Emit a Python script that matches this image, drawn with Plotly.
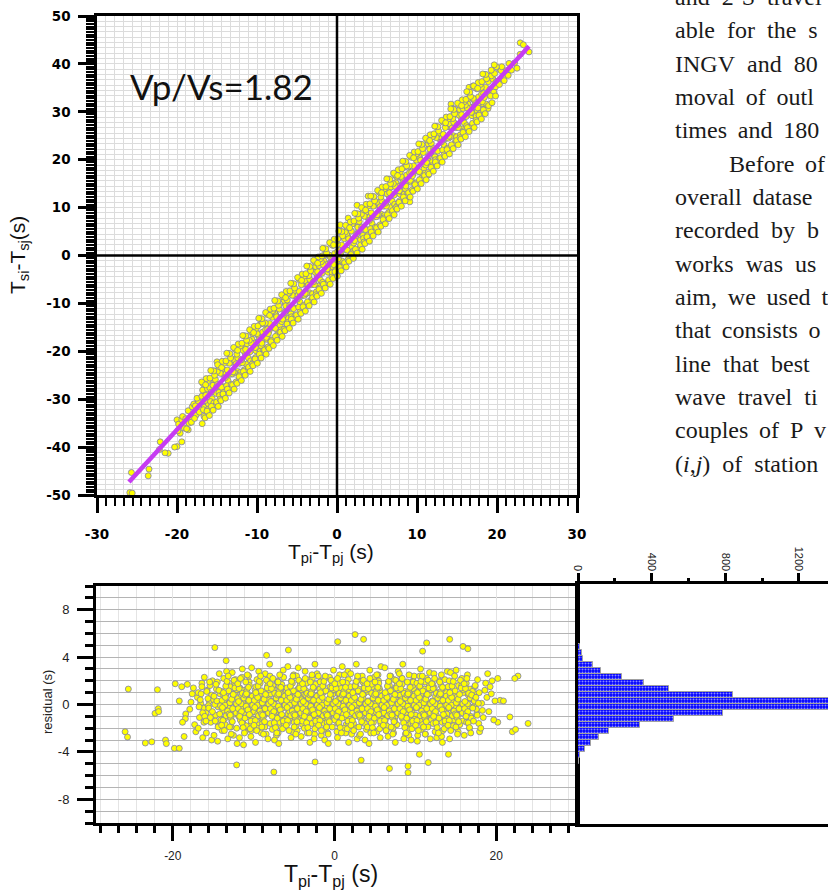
import plotly.graph_objects as go

FIG_W, FIG_H = 828, 890

# ---------------- data ----------------
VPVS_LABEL = "Vp/Vs=1.82"
fit_tp = [-26.0, 24.0]
fit_ts = [-47.3, 43.7]

top_xticks = [-30, -20, -10, 0, 10, 20, 30]
top_yticks = [-50, -40, -30, -20, -10, 0, 10, 20, 30, 40, 50]
res_xticks = [-20, 0, 20]
res_yticks = [-8, -4, 0, 4, 8]
hist_ticks = [0, 400, 800, 1200]

# Wadati diagram points (Tpi-Tpj, Tsi-Tsj)
wadati_points = [
    (-25.7, -45.3), (-25.9, -49.5), (-25.6, -49.6), (-23.5, -44.6), (-23.6, -46.0), (-22.1, -38.9),
    (-21.1, -41.3), (-20.0, -39.9), (-19.4, -38.9), (-20.0, -34.3), (-18.6, -36.4), (-21.5, -41.2),
    (-22.2, -40.5), (-20.3, -40.0), (-15.0, -22.2), (-13.4, -27.4), (-8.8, -19.4), (-7.5, -15.2),
    (22.9, 44.4), (24.0, 42.5), (23.3, 44.0), (20.3, 39.0), (19.5, 38.0), (16.5, 35.1), (17.0, 35.4),
    (14.25, 31.6), (14.5, 30.7), (9.1, 11.2), (11.4, 16.8), (3.9, 12.4), (2.5, 10.5), (1.4, 7.8), (0.4, 6.4),
    (-19.8, -35.2), (-19.4, -34.3), (-19.1, -36.0), (-19.6, -37.1), (-19.3, -33.6), (-19.9, -36.6),
    (-18.9, -34.1), (-18.6, -32.4), (-18.3, -33.9), (-18.8, -36.2), (-18.1, -31.6), (-18.5, -35.0), (-18.2, -34.8),
    (-17.9, -31.0), (-17.6, -33.3), (-17.3, -30.6), (-17.8, -34.0), (-17.1, -31.9), (-17.5, -29.8), (-17.2, -32.7), (-17.7, -31.4),
    (-16.9, -29.4), (-16.6, -31.7), (-16.3, -28.6), (-16.8, -28.1), (-16.1, -30.9), (-16.5, -30.3), (-16.2, -27.8), (-16.7, -32.2), (-16.4, -29.2),
    (-15.9, -27.6), (-15.6, -29.9), (-15.3, -26.5), (-15.8, -30.5), (-15.1, -28.8), (-15.5, -27.1), (-15.2, -25.9), (-15.7, -28.5), (-15.4, -30.8), (-15.05, -27.4),
    (-14.92, -26.9), (-14.5, -27.2), (-14.08, -24.2), (-14.75, -28.6), (-14.33, -23.8), (-14.67, -29.2), (-14.17, -24.9), (-14.83, -27.2), (-14.42, -27.5), (-14.58, -24.6), (-14.25, -29.0), (-14.96, -24.2),
    (-13.38, -24.8), (-13.87, -24.7), (-13.63, -26.1), (-13.12, -22.3), (-13.79, -27.2), (-13.29, -21.6), (-13.54, -24.6), (-13.04, -24.7), (-13.71, -23.9), (-13.21, -26.9), (-13.46, -22.5), (-13.96, -25.5),
    (-12.7, -22.4), (-12.15, -22.5), (-12.9, -21.7), (-12.45, -24.2), (-12.05, -24.4), (-12.6, -22.6), (-12.3, -19.5), (-12.8, -24.4), (-12.4, -21.4), (-12.98, -24.3), (-12.22, -25.6), (-12.52, -20.6),
    (-11.92, -22.1), (-11.5, -20.3), (-11.08, -21.4), (-11.75, -19.8), (-11.33, -22.7), (-11.67, -18.6), (-11.17, -20.2), (-11.83, -22.4), (-11.42, -19.6), (-11.58, -23.9), (-11.25, -18.4), (-11.96, -21.8),
    (-10.38, -18.1), (-10.87, -20.1), (-10.63, -17.5), (-10.12, -19.9), (-10.79, -22.0), (-10.29, -18.3), (-10.54, -16.3), (-10.04, -19.3), (-10.71, -18.3), (-10.21, -19.2), (-10.46, -22.3), (-10.96, -17.7),
    (-9.7, -17.4), (-9.15, -17.5), (-9.9, -16.6), (-9.45, -18.9), (-9.05, -14.2), (-9.6, -20.0), (-9.3, -16.0), (-9.8, -18.1), (-9.4, -18.3), (-9.98, -16.3), (-9.22, -19.9), (-9.52, -14.3),
    (-8.92, -15.5), (-8.5, -15.8), (-8.08, -12.9), (-8.75, -17.5), (-8.33, -17.6), (-8.67, -15.4), (-8.17, -12.0), (-8.83, -17.1), (-8.42, -14.2), (-8.58, -16.3), (-8.25, -18.3), (-8.96, -14.1),
    (-7.38, -13.1), (-7.87, -15.1), (-7.63, -12.4), (-7.12, -14.6), (-7.79, -11.8), (-7.29, -15.7), (-7.54, -12.8), (-7.04, -13.0), (-7.71, -15.2), (-7.21, -11.2), (-7.46, -16.6), (-7.96, -11.4),
    (-6.7, -12.6), (-6.15, -10.6), (-6.9, -13.8), (-6.45, -10.1), (-6.05, -13.1), (-6.6, -9.4), (-6.3, -11.3), (-6.8, -13.3), (-6.4, -10.5), (-6.98, -15.5), (-6.22, -9.3), (-6.52, -11.9),
    (-5.92, -10.5), (-5.5, -10.8), (-5.08, -7.8), (-5.75, -12.2), (-5.33, -7.4), (-5.67, -12.8), (-5.17, -8.5), (-5.83, -10.8), (-5.42, -11.1), (-5.58, -8.3), (-5.25, -12.6), (-5.96, -7.8),
    (-4.38, -8.4), (-4.87, -8.3), (-4.63, -9.7), (-4.12, -5.9), (-4.79, -10.8), (-4.29, -5.2), (-4.54, -8.2), (-4.04, -8.3), (-4.71, -7.5), (-4.21, -10.5), (-4.46, -6.1), (-4.96, -9.1),
    (-3.7, -6.0), (-3.15, -6.1), (-3.9, -5.3), (-3.45, -7.8), (-3.05, -8.0), (-3.6, -6.2), (-3.3, -3.1), (-3.8, -7.9), (-3.4, -5.0), (-3.98, -7.9), (-3.22, -9.2), (-3.52, -4.2),
    (-2.92, -5.8), (-2.5, -4.0), (-2.08, -5.1), (-2.75, -3.5), (-2.33, -6.4), (-2.67, -2.3), (-2.17, -3.9), (-2.83, -6.1), (-2.42, -3.4), (-2.58, -7.6), (-2.25, -2.1), (-2.96, -5.5),
    (-1.38, -1.7), (-1.87, -3.7), (-1.63, -1.1), (-1.12, -3.5), (-1.79, -5.6), (-1.29, -1.9), (-1.54, 0.1), (-1.04, -2.9), (-1.71, -1.9), (-1.21, -2.8), (-1.46, -5.9), (-1.96, -1.3),
    (-0.7, -1.0), (-0.15, -1.1), (-0.9, -0.2), (-0.45, -2.5), (-0.05, 2.2), (-0.6, -3.6), (-0.3, 0.4), (-0.8, -1.6), (-0.4, -1.9), (-0.98, 0.1), (-0.22, -3.5), (-0.52, 2.1),
    (0.08, 0.9), (0.5, 0.6), (0.92, 3.5), (0.25, -1.1), (0.67, -1.2), (0.33, 1.0), (0.83, 4.4), (0.17, -0.7), (0.58, 2.2), (0.42, 0.2), (0.75, -1.9), (0.04, 2.3),
    (1.62, 3.2), (1.13, 1.2), (1.37, 3.9), (1.88, 1.7), (1.21, 4.5), (1.71, 0.6), (1.46, 3.5), (1.96, 3.3), (1.29, 1.1), (1.79, 5.1), (1.54, -0.3), (1.04, 4.9),
    (2.3, 3.8), (2.85, 5.8), (2.1, 2.6), (2.55, 6.3), (2.95, 3.3), (2.4, 7.0), (2.7, 5.1), (2.2, 3.1), (2.6, 5.9), (2.02, 0.9), (2.78, 7.1), (2.48, 4.5),
    (3.08, 5.9), (3.5, 5.6), (3.92, 8.6), (3.25, 4.2), (3.67, 9.0), (3.33, 3.6), (3.83, 7.9), (3.17, 5.6), (3.58, 5.4), (3.42, 8.2), (3.75, 3.8), (3.04, 8.6),
    (4.62, 8.0), (4.13, 8.1), (4.37, 6.7), (4.88, 10.5), (4.21, 5.6), (4.71, 11.2), (4.46, 8.2), (4.96, 8.1), (4.29, 8.9), (4.79, 5.9), (4.54, 10.3), (4.04, 7.3),
    (5.3, 10.4), (5.85, 10.3), (5.1, 11.1), (5.55, 8.6), (5.95, 8.4), (5.4, 10.2), (5.7, 13.3), (5.2, 8.5), (5.6, 11.4), (5.02, 8.5), (5.78, 7.2), (5.48, 12.2),
    (6.08, 10.6), (6.5, 12.4), (6.92, 11.3), (6.25, 12.9), (6.67, 10.0), (6.33, 14.1), (6.83, 12.5), (6.17, 10.3), (6.58, 13.1), (6.42, 8.9), (6.75, 14.3), (6.04, 10.9),
    (7.62, 14.6), (7.13, 12.6), (7.37, 15.2), (7.88, 12.8), (7.21, 10.7), (7.71, 14.4), (7.46, 16.4), (7.96, 13.4), (7.29, 14.4), (7.79, 13.5), (7.54, 10.4), (7.04, 15.0),
    (8.3, 15.4), (8.85, 15.3), (8.1, 16.2), (8.55, 13.9), (8.95, 18.6), (8.4, 12.8), (8.7, 16.8), (8.2, 14.8), (8.6, 14.5), (8.02, 16.5), (8.78, 12.9), (8.48, 18.5),
    (9.08, 17.3), (9.5, 17.0), (9.92, 19.9), (9.25, 15.3), (9.67, 15.2), (9.33, 17.4), (9.83, 20.8), (9.17, 15.7), (9.58, 18.7), (9.42, 16.6), (9.75, 14.5), (9.04, 18.7),
    (10.62, 19.6), (10.13, 17.6), (10.37, 20.3), (10.88, 18.1), (10.21, 20.9), (10.71, 17.0), (10.46, 19.9), (10.96, 19.7), (10.29, 17.5), (10.79, 21.5), (10.54, 16.1), (10.04, 21.3),
    (11.3, 20.1), (11.85, 22.1), (11.1, 18.9), (11.55, 22.6), (11.95, 19.6), (11.4, 23.3), (11.7, 21.4), (11.2, 19.4), (11.6, 22.2), (11.02, 17.2), (11.78, 23.4), (11.48, 20.8),
    (12.08, 22.3), (12.5, 22.0), (12.92, 25.0), (12.25, 20.6), (12.67, 25.4), (12.33, 20.0), (12.83, 24.3), (12.17, 22.0), (12.58, 21.8), (12.42, 24.6), (12.75, 20.2), (12.04, 25.0),
    (13.62, 24.4), (13.13, 24.5), (13.37, 23.1), (13.88, 26.9), (13.21, 22.0), (13.71, 27.6), (13.46, 24.6), (13.96, 24.5), (13.29, 25.3), (13.79, 22.3), (13.54, 26.7), (13.04, 23.7),
    (14.3, 26.8), (14.85, 26.7), (14.1, 27.5), (14.55, 25.0), (14.95, 24.8), (14.4, 26.6), (14.7, 29.7), (14.2, 24.8), (14.6, 27.8), (14.02, 24.9), (14.78, 23.6), (14.48, 28.6),
    (15.08, 27.0), (15.5, 28.8), (15.92, 27.7), (15.25, 29.3), (15.67, 26.4), (15.33, 30.5), (15.83, 28.9), (15.17, 26.7), (15.58, 29.4), (15.42, 25.2), (15.75, 30.7), (15.04, 27.3),
    (16.62, 31.0), (16.13, 29.0), (16.37, 31.6), (16.88, 29.2), (16.21, 27.1), (16.71, 30.8), (16.46, 32.8), (16.96, 29.8), (16.29, 30.8), (16.79, 29.9), (16.54, 26.8), (16.04, 31.4),
    (17.3, 31.7), (17.85, 31.6), (17.1, 32.5), (17.55, 30.2), (17.95, 34.9), (17.4, 29.1), (17.7, 33.1), (17.2, 31.1), (17.6, 30.8), (17.02, 32.8), (17.78, 29.2), (17.48, 34.8),
    (18.08, 33.7), (18.5, 33.4), (18.92, 36.3), (18.25, 31.7), (18.67, 31.6), (18.33, 33.8), (18.83, 37.2), (18.17, 32.1), (18.58, 35.1), (18.42, 33.0), (18.75, 30.9), (18.04, 35.1),
    (19.1, 34.6), (19.5, 36.8), (19.8, 35.2), (19.3, 37.5), (19.6, 34.1), (19.9, 36.3), (19.2, 33.3), (19.7, 38.0),
    (20.1, 36.4), (20.5, 38.6), (20.8, 37.0), (20.3, 35.7), (20.6, 39.4), (20.9, 36.5),
    (21.2, 38.6), (21.5, 40.1), (21.8, 38.7), (21.4, 37.6), (22.2, 40.2), (22.5, 39.1), (22.9, 42.0),
    # outer edge of the band
    (-16.62, -33.6), (-16.08, -26.1), (-16.85, -35.1), (-16.35, -25.7), (-16.18, -32.2), (-16.72, -26.8), (-16.5, -33.9), (-16.92, -26.4), (-16.25, -32.5), (-16.42, -27.0),
    (-15.88, -25.6), (-15.12, -31.2), (-15.55, -24.1), (-15.7, -31.5), (-15.3, -25.0), (-15.95, -33.4), (-15.4, -24.1), (-15.05, -30.6), (-15.78, -24.0), (-15.48, -32.3),
    (-14.62, -30.0), (-14.08, -22.5), (-14.85, -31.5), (-14.35, -22.1), (-14.18, -28.6), (-14.72, -23.2), (-14.5, -30.3), (-14.92, -22.8), (-14.25, -28.9), (-14.42, -23.4),
    (-13.88, -22.0), (-13.12, -27.6), (-13.55, -20.5), (-13.7, -27.9), (-13.3, -21.4), (-13.95, -29.8), (-13.4, -20.5), (-13.05, -27.0), (-13.78, -20.4), (-13.48, -28.7),
    (-12.62, -26.4), (-12.08, -18.9), (-12.85, -27.9), (-12.35, -18.5), (-12.18, -25.0), (-12.72, -19.6), (-12.5, -26.7), (-12.92, -19.2), (-12.25, -25.3), (-12.42, -19.8),
    (-11.88, -18.3), (-11.12, -23.9), (-11.55, -16.8), (-11.7, -24.2), (-11.3, -17.7), (-11.95, -26.1), (-11.4, -16.8), (-11.05, -23.3), (-11.78, -16.7), (-11.48, -25.0),
    (-10.62, -22.7), (-10.08, -15.2), (-10.85, -24.2), (-10.35, -14.8), (-10.18, -21.3), (-10.72, -15.9), (-10.5, -23.0), (-10.92, -15.5), (-10.25, -21.6), (-10.42, -16.1),
    (-9.88, -14.7), (-9.12, -20.3), (-9.55, -13.2), (-9.7, -20.6), (-9.3, -14.1), (-9.95, -22.5), (-9.4, -13.2), (-9.05, -19.7), (-9.78, -13.1), (-9.48, -21.4),
    (-8.62, -19.1), (-8.08, -11.6), (-8.85, -20.6), (-8.35, -11.2), (-8.18, -17.7), (-8.72, -12.3), (-8.5, -19.4), (-8.92, -11.9), (-8.25, -18.0), (-8.42, -12.5),
    (-7.88, -11.0), (-7.12, -16.6), (-7.55, -9.5), (-7.7, -16.9), (-7.3, -10.4), (-7.95, -18.8), (-7.4, -9.5), (-7.05, -16.0), (-7.78, -9.4), (-7.48, -17.7),
    (-6.62, -15.4), (-6.08, -7.9), (-6.85, -16.9), (-6.35, -7.5), (-6.18, -14.0), (-6.72, -8.6), (-6.5, -15.7), (-6.92, -8.2), (-6.25, -14.3), (-6.42, -8.8),
    (-5.88, -7.4), (-5.12, -13.0), (-5.55, -5.9), (-5.7, -13.3), (-5.3, -6.8), (-5.95, -15.2), (-5.4, -5.9), (-5.05, -12.4), (-5.78, -5.8), (-5.48, -14.1),
    (-4.62, -11.8), (-4.08, -4.3), (-4.85, -13.3), (-4.35, -3.9), (-4.18, -10.4), (-4.72, -5.0), (-4.5, -12.1), (-4.92, -4.6), (-4.25, -10.7), (-4.42, -5.2),
    (-3.88, -3.8), (-3.12, -9.4), (-3.55, -2.3), (-3.7, -9.7), (-3.3, -3.2), (-3.95, -11.6), (-3.4, -2.3), (-3.05, -8.8), (-3.78, -2.2), (-3.48, -10.5),
    (-2.62, -8.2), (-2.08, -0.7), (-2.85, -9.7), (-2.35, -0.3), (-2.18, -6.8), (-2.72, -1.4), (-2.5, -8.5), (-2.92, -1.0), (-2.25, -7.1), (-2.42, -1.6),
    (-1.88, -0.1), (-1.12, -5.7), (-1.55, 1.4), (-1.7, -6.0), (-1.3, 0.5), (-1.95, -7.9), (-1.4, 1.4), (-1.05, -5.1), (-1.78, 1.5), (-1.48, -6.8),
    (-0.62, -4.5), (-0.08, 3.0), (-0.85, -6.0), (-0.35, 3.4), (-0.18, -3.1), (-0.72, 2.3), (-0.5, -4.8), (-0.92, 2.7), (-0.25, -3.4), (-0.42, 2.2),
    (0.12, 3.5), (0.88, -2.1), (0.45, 5.0), (0.3, -2.4), (0.7, 4.1), (0.05, -4.3), (0.6, 5.0), (0.95, -1.5), (0.22, 5.1), (0.52, -3.2),
    (1.38, -0.9), (1.92, 6.6), (1.15, -2.4), (1.65, 7.0), (1.82, 0.5), (1.28, 5.9), (1.5, -1.2), (1.08, 6.3), (1.75, 0.2), (1.58, 5.8),
    (2.12, 7.2), (2.88, 1.6), (2.45, 8.7), (2.3, 1.3), (2.7, 7.8), (2.05, -0.6), (2.6, 8.7), (2.95, 2.2), (2.22, 8.8), (2.52, 0.5),
    (3.38, 2.8), (3.92, 10.3), (3.15, 1.3), (3.65, 10.7), (3.82, 4.2), (3.28, 9.6), (3.5, 2.5), (3.08, 10.0), (3.75, 3.9), (3.58, 9.5),
    (4.12, 10.8), (4.88, 5.2), (4.45, 12.3), (4.3, 4.9), (4.7, 11.4), (4.05, 3.0), (4.6, 12.3), (4.95, 5.8), (4.22, 12.4), (4.52, 4.1),
    (5.38, 6.4), (5.92, 13.9), (5.15, 4.9), (5.65, 14.3), (5.82, 7.8), (5.28, 13.2), (5.5, 6.1), (5.08, 13.6), (5.75, 7.5), (5.58, 13.1),
    (6.12, 14.4), (6.88, 8.8), (6.45, 15.9), (6.3, 8.5), (6.7, 15.0), (6.05, 6.6), (6.6, 15.9), (6.95, 9.4), (6.22, 16.0), (6.52, 7.7),
    (7.38, 10.0), (7.92, 17.5), (7.15, 8.5), (7.65, 17.9), (7.82, 11.4), (7.28, 16.8), (7.5, 9.7), (7.08, 17.2), (7.75, 11.1), (7.58, 16.7),
    (8.12, 18.1), (8.88, 12.5), (8.45, 19.6), (8.3, 12.2), (8.7, 18.7), (8.05, 10.3), (8.6, 19.6), (8.95, 13.1), (8.22, 19.7), (8.52, 11.4),
    (9.38, 13.7), (9.92, 21.2), (9.15, 12.2), (9.65, 21.6), (9.82, 15.1), (9.28, 20.5), (9.5, 13.4), (9.08, 20.9), (9.75, 14.8), (9.58, 20.4),
    (10.12, 21.7), (10.88, 16.1), (10.45, 23.2), (10.3, 15.8), (10.7, 22.3), (10.05, 13.9), (10.6, 23.2), (10.95, 16.7), (10.22, 23.3), (10.52, 15.0),
    (11.38, 17.3), (11.92, 24.8), (11.15, 15.8), (11.65, 25.2), (11.82, 18.7), (11.28, 24.1), (11.5, 17.0), (11.08, 24.5), (11.75, 18.4), (11.58, 24.0),
    (12.12, 25.4), (12.88, 19.8), (12.45, 26.9), (12.3, 19.5), (12.7, 26.0), (12.05, 17.6), (12.6, 26.9), (12.95, 20.4), (12.22, 27.0), (12.52, 18.7),
    (13.38, 21.0), (13.92, 28.5), (13.15, 19.5), (13.65, 28.9), (13.82, 22.4), (13.28, 27.8), (13.5, 20.7), (13.08, 28.2), (13.75, 22.1), (13.58, 27.7),
    (14.12, 29.0), (14.88, 23.4), (14.45, 30.5), (14.3, 23.1), (14.7, 29.6), (14.05, 21.2), (14.6, 30.5), (14.95, 24.0), (14.22, 30.6), (14.52, 22.3),
    (15.38, 24.6), (15.92, 32.1), (15.15, 23.1), (15.65, 32.5), (15.82, 26.0), (15.28, 31.4), (15.5, 24.3), (15.08, 31.8), (15.75, 25.7), (15.58, 31.3),
    (16.12, 32.6), (16.88, 27.0), (16.45, 34.1), (16.3, 26.7), (16.7, 33.2), (16.05, 24.8), (16.6, 34.1), (16.95, 27.6), (16.22, 34.2), (16.52, 25.9),
    (17.38, 28.2), (17.92, 35.7), (17.15, 26.7), (17.65, 36.1), (17.82, 29.6), (17.28, 35.0), (17.5, 27.9), (17.08, 35.4), (17.75, 29.3), (17.58, 34.9),
    (18.12, 36.3), (18.88, 30.7), (18.45, 37.8), (18.3, 30.4), (18.7, 36.9), (18.05, 28.5), (18.6, 37.8), (18.95, 31.3), (18.22, 37.9), (18.52, 29.6),
    (19.38, 31.9), (19.92, 39.4), (19.65, 39.8), (19.82, 33.3), (19.28, 38.7),
]

# Residual points (Tpi-Tpj, residual)
residual_points = [
    (-25.5, 1.3), (-25.9, -2.3), (-25.6, -2.75), (-23.4, -3.25), (-22.6, -3.15), (-21.9, 1.25), (-22.2, -0.75),
    (-21.8, -0.35), (-21.75, -0.6), (-20.9, -3.0), (-20.8, -3.3), (-19.8, -3.7), (-19.2, -3.7), (-19.7, 1.75),
    (-14.8, 4.8), (-13.4, 3.7), (-12.1, -5.1), (-7.5, -5.7), (-8.4, 4.15), (-5.7, 4.6), (2.55, 5.9), (0.4, 5.3),
    (3.6, 5.5), (14.25, 5.5), (15.9, 4.9), (16.5, 4.7), (11.4, 5.2), (10.9, 4.5), (23.95, -1.6), (22.7, 2.4),
    (22.3, 2.2), (6.8, -5.4), (9.1, -5.2), (9.1, -5.75), (-2.4, -4.85), (3.3, -4.7), (21.7, -1.05), (22.0, -2.3),
    (22.4, -2.1), (20.2, -1.5), (20.5, 0.35), (20.9, 0.3), (20.2, 2.2), (19.5, 2.0), (14.1, -4.2), (11.6, -4.9),
    (10.5, -4.2), (-18.4, -0.8), (-18.45, -1.2), (-18.6, -2.7), (-18.8, -1.5), (-19.2, 0.3), (-18.9, 1.5), (-18.2, 1.7),
    (-17.9, -0.4), (-17.6, 0.9), (-17.3, -1.7), (-17.75, 0.2), (-17.15, -2.3), (-17.45, 1.4),
    (-16.95, 0.6), (-16.7, -1.1), (-16.4, 1.8), (-16.2, -0.3), (-16.85, -2.0), (-16.55, 0.1), (-16.1, 2.3), (-16.3, -2.8),
    (-15.9, -0.7), (-15.75, 1.2), (-15.5, 0.3), (-15.3, -1.5), (-15.1, 2.0), (-15.85, -2.4), (-15.6, -0.1), (-15.4, 1.6), (-15.2, -3.0), (-15.05, 0.7),
    (-14.95, 0.4), (-14.7, -0.9), (-14.5, 1.9), (-14.35, -1.8), (-14.15, 0.9), (-14.9, -2.6), (-14.6, 1.3), (-14.4, -0.2), (-14.25, 2.6), (-14.05, -1.3), (-14.8, 0.0), (-14.45, -3.1),
    (-13.95, 1.1), (-13.8, -0.5), (-13.65, 0.3), (-13.5, -1.7), (-13.3, 1.7), (-13.1, -0.9), (-13.9, -2.2), (-13.7, 2.2), (-13.45, 0.8), (-13.2, -2.9), (-13.05, 0.1), (-13.6, -1.2), (-13.35, 2.8), (-13.15, -0.4),
    (-12.95, -0.3), (-12.85, 1.5), (-12.7, -1.4), (-12.55, 0.6), (-12.4, -0.8), (-12.25, 2.1), (-12.1, -2.0), (-12.9, 0.2), (-12.65, 2.7), (-12.5, -2.6), (-12.3, 1.0), (-12.15, -0.1), (-12.8, -1.9), (-12.45, 1.9), (-12.05, -3.3), (-12.6, 0.9),
    (-11.95, 0.5), (-11.85, -1.0), (-11.7, 1.4), (-11.6, -0.4), (-11.45, 2.3), (-11.3, -1.6), (-11.15, 0.2), (-11.05, -2.3), (-11.9, 1.9), (-11.75, -2.8), (-11.5, 0.8), (-11.35, -0.2), (-11.2, 1.2), (-11.65, -1.3), (-11.4, 3.0), (-11.1, -0.7), (-11.8, 0.0), (-11.25, -3.4),
    (-10.1, 0.1), (-10.92, -0.4), (-10.38, 0.7), (-10.65, -1.0), (-10.83, 1.3), (-10.19, -1.5), (-10.56, 1.9), (-10.29, -2.2), (-10.74, 0.4), (-10.47, -0.7), (-10.97, 1.0), (-10.03, -1.3), (-10.61, 2.4), (-10.34, -2.7), (-10.79, 0.0), (-10.15, -0.2), (-10.52, 1.6), (-10.89, -1.8), (-10.25, 3.1), (-10.42, -0.9),
    (-9.67, -0.1), (-9.24, 0.3), (-9.95, -0.6), (-9.43, 0.9), (-9.08, -1.1), (-9.81, 1.2), (-9.32, -1.7), (-9.59, 2.1), (-9.14, -0.3), (-9.88, 0.6), (-9.5, -0.8), (-9.73, 1.5), (-9.05, -2.4), (-9.37, 2.8), (-9.64, 0.2), (-9.99, -1.4), (-9.2, 1.8), (-9.54, -2.0), (-9.77, -3.2), (-9.3, 0.8),
    (-8.4, 0.2), (-8.86, -0.5), (-8.17, 0.5), (-8.71, -0.9), (-8.53, 1.1), (-8.98, -1.2), (-8.28, 1.4), (-8.62, -1.9), (-8.06, 2.2), (-8.45, -2.5), (-8.82, 0.0), (-8.35, 0.8), (-8.69, -0.3), (-8.12, 1.7), (-8.91, -1.6), (-8.57, 2.6), (-8.23, -2.9), (-8.76, 0.4), (-8.48, -0.7), (-8.02, 3.4),
    (-7.85, -0.2), (-7.45, 0.1), (-7.13, -0.7), (-7.76, 1.0), (-7.31, -1.3), (-7.58, 1.3), (-7.94, -1.6), (-7.07, 2.0), (-7.69, -2.1), (-7.22, 0.5), (-7.51, -0.4), (-7.87, 0.9), (-7.36, -1.0), (-7.63, 1.6), (-7.18, -2.6), (-7.98, 2.4), (-7.42, -3.0), (-7.73, 0.3), (-7.04, 1.9), (-7.55, -0.1),
    (-6.1, 0.3), (-6.92, -0.6), (-6.38, 0.9), (-6.65, -1.2), (-6.83, 1.5), (-6.19, -0.1), (-6.56, -1.9), (-6.29, 2.3), (-6.74, -0.5), (-6.47, 0.6), (-6.97, -2.4), (-6.03, 1.1), (-6.61, -0.9), (-6.34, 2.9), (-6.79, -1.5), (-6.15, 0.0), (-6.52, 1.7), (-6.89, -3.3), (-6.25, 0.2), (-6.42, -0.3),
    (-5.67, -0.5), (-5.24, 0.2), (-5.95, 1.2), (-5.43, -1.1), (-5.08, 0.6), (-5.81, -1.6), (-5.32, 2.0), (-5.59, -0.2), (-5.14, -2.3), (-5.88, 1.4), (-5.5, 0.9), (-5.73, -0.8), (-5.05, 2.5), (-5.37, -2.8), (-5.64, 0.1), (-5.99, -1.3), (-5.2, 1.8), (-5.54, -0.6), (-5.77, 3.2), (-5.3, 0.4),
    (-4.4, 0.1), (-4.86, -0.4), (-4.17, 0.7), (-4.71, -1.0), (-4.53, 1.3), (-4.98, -1.5), (-4.28, 1.9), (-4.62, -2.2), (-4.06, 0.4), (-4.45, -0.7), (-4.82, 1.0), (-4.35, -1.3), (-4.69, 2.4), (-4.12, -2.7), (-4.91, 0.0), (-4.57, -0.2), (-4.23, 1.6), (-4.76, -1.8), (-4.48, 3.1), (-4.02, -0.9),
    (-3.85, -0.1), (-3.45, 0.3), (-3.13, -0.6), (-3.76, 0.9), (-3.31, -1.1), (-3.58, 1.2), (-3.94, -1.7), (-3.07, 2.1), (-3.69, -0.3), (-3.22, 0.6), (-3.51, -0.8), (-3.87, 1.5), (-3.36, -2.4), (-3.63, 2.8), (-3.18, 0.2), (-3.98, -1.4), (-3.42, 1.8), (-3.73, -2.0), (-3.04, -3.2), (-3.55, 0.8),
    (-2.1, 0.2), (-2.92, -0.5), (-2.38, 0.5), (-2.65, -0.9), (-2.83, 1.1), (-2.19, -1.2), (-2.56, 1.4), (-2.29, -1.9), (-2.74, 2.2), (-2.47, -2.5), (-2.97, 0.0), (-2.03, 0.8), (-2.61, -0.3), (-2.34, 1.7), (-2.79, -1.6), (-2.15, 2.6), (-2.52, -2.9), (-2.89, 0.4), (-2.25, -0.7), (-2.42, 3.4),
    (-1.67, -0.2), (-1.24, 0.1), (-1.95, -0.7), (-1.43, 1.0), (-1.08, -1.3), (-1.81, 1.3), (-1.32, -1.6), (-1.59, 2.0), (-1.14, -2.1), (-1.88, 0.5), (-1.5, -0.4), (-1.73, 0.9), (-1.05, -1.0), (-1.37, 1.6), (-1.64, -2.6), (-1.99, 2.4), (-1.2, -3.0), (-1.54, 0.3), (-1.77, 1.9), (-1.3, -0.1),
    (-0.4, 0.3), (-0.86, -0.6), (-0.17, 0.9), (-0.71, -1.2), (-0.53, 1.5), (-0.98, -0.1), (-0.28, -1.9), (-0.62, 2.3), (-0.06, -0.5), (-0.45, 0.6), (-0.82, -2.4), (-0.35, 1.1), (-0.69, -0.9), (-0.12, 2.9), (-0.91, -1.5), (-0.57, 0.0), (-0.23, 1.7), (-0.76, -3.3), (-0.48, 0.2), (-0.02, -0.3),
    (0.15, -0.5), (0.55, 0.2), (0.87, 1.2), (0.24, -1.1), (0.69, 0.6), (0.42, -1.6), (0.06, 2.0), (0.93, -0.2), (0.31, -2.3), (0.78, 1.4), (0.49, 0.9), (0.13, -0.8), (0.64, 2.5), (0.37, -2.8), (0.82, 0.1), (0.02, -1.3), (0.58, 1.8), (0.27, -0.6), (0.96, 3.2), (0.45, 0.4),
    (1.9, -0.1), (1.08, 0.3), (1.62, -0.6), (1.35, 0.9), (1.17, -1.1), (1.81, 1.2), (1.44, -1.7), (1.71, 2.1), (1.26, -0.3), (1.53, 0.6), (1.03, -0.8), (1.97, 1.5), (1.39, -2.4), (1.66, 2.8), (1.21, 0.2), (1.85, -1.4), (1.48, 1.8), (1.11, -2.0), (1.75, -3.2), (1.58, 0.8),
    (2.33, 0.2), (2.76, -0.5), (2.05, 0.5), (2.57, -0.9), (2.92, 1.1), (2.19, -1.2), (2.68, 1.4), (2.41, -1.9), (2.86, 2.2), (2.12, -2.5), (2.5, 0.0), (2.27, 0.8), (2.95, -0.3), (2.63, 1.7), (2.36, -1.6), (2.01, 2.6), (2.8, -2.9), (2.46, 0.4), (2.23, -0.7), (2.7, 3.4),
    (3.6, -0.2), (3.14, 0.1), (3.83, -0.7), (3.29, 1.0), (3.47, -1.3), (3.02, 1.3), (3.72, -1.6), (3.38, 2.0), (3.94, -2.1), (3.55, 0.5), (3.18, -0.4), (3.65, 0.9), (3.31, -1.0), (3.88, 1.6), (3.09, -2.6), (3.43, 2.4), (3.77, -3.0), (3.24, 0.3), (3.52, 1.9), (3.98, -0.1),
    (4.15, 0.3), (4.55, -0.6), (4.87, 0.9), (4.24, -1.2), (4.69, 1.5), (4.42, -0.1), (4.06, -1.9), (4.93, 2.3), (4.31, -0.5), (4.78, 0.6), (4.49, -2.4), (4.13, 1.1), (4.64, -0.9), (4.37, 2.9), (4.82, -1.5), (4.02, 0.0), (4.58, 1.7), (4.27, -3.3), (4.96, 0.2), (4.45, -0.3),
    (5.9, -0.5), (5.08, 0.2), (5.62, 1.2), (5.35, -1.1), (5.17, 0.6), (5.81, -1.6), (5.44, 2.0), (5.71, -0.2), (5.26, -2.3), (5.53, 1.4), (5.03, 0.9), (5.97, -0.8), (5.39, 2.5), (5.66, -2.8), (5.21, 0.1), (5.85, -1.3), (5.48, 1.8), (5.11, -0.6), (5.75, 3.2), (5.58, 0.4),
    (6.33, 0.1), (6.76, -0.4), (6.05, 0.7), (6.57, -1.0), (6.92, 1.3), (6.19, -1.5), (6.68, 1.9), (6.41, -2.2), (6.86, 0.4), (6.12, -0.7), (6.5, 1.0), (6.27, -1.3), (6.95, 2.4), (6.63, -2.7), (6.36, 0.0), (6.01, -0.2), (6.8, 1.6), (6.46, -1.8), (6.23, 3.1), (6.7, -0.9),
    (7.6, -0.1), (7.14, 0.3), (7.83, -0.6), (7.29, 0.9), (7.47, -1.1), (7.02, 1.2), (7.72, -1.7), (7.38, 2.1), (7.94, -0.3), (7.55, 0.6), (7.18, -0.8), (7.65, 1.5), (7.31, -2.4), (7.88, 2.8), (7.09, 0.2), (7.43, -1.4), (7.77, 1.8), (7.24, -2.0), (7.52, -3.2), (7.98, 0.8),
    (8.15, 0.2), (8.55, -0.5), (8.87, 0.5), (8.24, -0.9), (8.69, 1.1), (8.42, -1.2), (8.06, 1.4), (8.93, -1.9), (8.31, 2.2), (8.78, -2.5), (8.49, 0.0), (8.13, 0.8), (8.64, -0.3), (8.37, 1.7), (8.82, -1.6), (8.02, 2.6), (8.58, -2.9), (8.27, 0.4), (8.96, -0.7), (8.45, 3.4),
    (9.9, -0.2), (9.08, 0.1), (9.62, -0.7), (9.35, 1.0), (9.17, -1.3), (9.81, 1.3), (9.44, -1.6), (9.71, 2.0), (9.26, -2.1), (9.53, 0.5), (9.03, -0.4), (9.97, 0.9), (9.39, -1.0), (9.66, 1.6), (9.21, -2.6), (9.85, 2.4), (9.48, -3.0), (9.11, 0.3), (9.75, 1.9), (9.58, -0.1),
    (10.1, 0.4), (10.85, -0.6), (10.35, 1.1), (10.6, -1.4), (10.2, 1.8), (10.75, -2.1), (10.45, 0.0), (10.95, 0.8), (10.05, -0.9), (10.55, 2.4), (10.3, -2.6), (10.7, 1.4), (10.15, -0.3), (10.9, -1.7), (10.4, 0.6), (10.65, 3.0), (10.25, -3.1), (10.8, 0.2),
    (11.05, -0.2), (11.7, 0.9), (11.3, -1.1), (11.9, 1.6), (11.15, 0.5), (11.55, -1.9), (11.8, -0.5), (11.4, 2.2), (11.25, -2.5), (11.65, 0.1), (11.95, -1.3), (11.1, 1.3), (11.5, -0.8), (11.75, 2.7), (11.35, 0.7), (11.85, -2.9), (11.2, 1.9), (11.6, -0.1),
    (12.1, 0.3), (12.6, -0.9), (12.35, 1.4), (12.85, -0.2), (12.2, -1.6), (12.7, 1.0), (12.45, -2.3), (12.95, 2.0), (12.05, -0.5), (12.5, 0.7), (12.8, -1.2), (12.3, 2.6), (12.65, -2.8), (12.15, 1.7), (12.9, 0.0), (12.4, -0.6),
    (13.05, 0.8), (13.55, -0.4), (13.3, -1.5), (13.8, 1.2), (13.15, 0.1), (13.65, 2.1), (13.4, -2.2), (13.9, -0.8), (13.2, 1.6), (13.7, -1.1), (13.45, 0.5), (13.95, 2.8), (13.25, -2.7), (13.6, -0.1), (13.85, 1.0), (13.35, -3.2),
    (14.1, -0.3), (14.55, 1.1), (14.3, 0.4), (14.8, -1.3), (14.2, 2.0), (14.65, -0.7), (14.45, -2.1), (14.9, 0.9), (14.05, 1.5), (14.7, -1.8), (14.35, 2.7), (14.95, -0.1), (14.6, 0.2), (14.25, -2.9),
    (15.1, 0.6), (15.6, -0.5), (15.35, 1.6), (15.85, -1.4), (15.2, -0.9), (15.75, 2.2), (15.45, 0.1), (15.95, 1.0), (15.3, -2.3), (15.65, -0.2), (15.05, 2.9), (15.5, -1.7),
    (16.1, -0.4), (16.55, 0.8), (16.3, 1.8), (16.85, -1.0), (16.2, 0.2), (16.7, -2.0), (16.45, 2.5), (16.95, 0.5), (16.35, -1.5), (16.75, 1.3), (16.05, -2.6), (16.6, -0.1),
    (17.15, 0.4), (17.6, -0.8), (17.35, 1.5), (17.85, -1.6), (17.25, -0.2), (17.7, 2.1), (17.45, 0.9), (17.95, -2.3), (17.05, 1.1), (17.55, -0.4),
    (18.2, 0.1), (18.6, 1.2), (18.4, -1.1), (18.85, 0.6), (18.1, -2.0), (18.7, 1.8), (18.3, -0.5), (18.95, 2.6),
    (19.1, -0.6), (19.4, 0.9), (19.7, -1.3), (19.25, 1.5), (19.85, 0.3),
    # dense core of the cloud
    (-16.6, 0.4), (-16.3, -0.7), (-16.85, 1.0), (-16.15, -1.5), (-16.5, 0.9), (-16.75, -0.2), (-16.4, 1.5), (-16.05, -1.0),
    (-15.55, -0.3), (-15.2, 0.8), (-15.8, 1.1), (-15.35, -1.1), (-15.65, 0.5), (-15.1, -0.6), (-15.9, -1.4), (-15.45, 1.9),
    (-14.55, 0.3), (-14.2, -0.8), (-14.75, -1.4), (-14.3, 1.2), (-14.9, 0.7), (-14.1, -0.1), (-14.65, 1.7), (-14.4, -1.9),
    (-13.55, -0.05), (-13.9, 0.35), (-13.22, -0.55), (-13.68, 0.75), (-13.4, -0.95), (-13.08, 1.15), (-13.8, -1.35), (-13.45, 1.55), (-13.96, -1.75), (-13.3, 1.95), (-13.62, -2.2), (-13.14, 2.4), (-13.86, -0.25), (-13.5, 0.6), (-13.03, -0.8), (-13.73, 1.0),
    (-12.93, 0.15), (-12.36, -0.45), (-12.71, 0.45), (-12.17, -0.7), (-12.52, 0.85), (-12.84, -1.1), (-12.05, 1.25), (-12.64, -1.45), (-12.26, 1.6), (-12.98, -1.9), (-12.42, 2.05), (-12.78, -2.5), (-12.12, 0.05), (-12.59, -0.35), (-12.32, 1.4), (-12.89, -0.9),
    (-11.55, 0.05), (-11.9, -0.35), (-11.22, 0.55), (-11.68, -0.75), (-11.4, 0.95), (-11.08, -1.15), (-11.8, 1.35), (-11.45, -1.55), (-11.96, 1.75), (-11.3, -1.95), (-11.62, 2.2), (-11.14, -2.4), (-11.86, 0.25), (-11.5, -0.6), (-11.03, 0.8), (-11.73, -1.0),
    (-10.93, -0.15), (-10.36, 0.45), (-10.71, -0.45), (-10.17, 0.7), (-10.52, -0.85), (-10.84, 1.1), (-10.05, -1.25), (-10.64, 1.45), (-10.26, -1.6), (-10.98, 1.9), (-10.42, -2.05), (-10.78, 2.5), (-10.12, -0.05), (-10.59, 0.35), (-10.32, -1.4), (-10.89, 0.9),
    (-9.55, -0.05), (-9.9, 0.35), (-9.22, -0.55), (-9.68, 0.75), (-9.4, -0.95), (-9.08, 1.15), (-9.8, -1.35), (-9.45, 1.55), (-9.96, -1.75), (-9.3, 1.95), (-9.62, -2.2), (-9.14, 2.4), (-9.86, -0.25), (-9.5, 0.6), (-9.03, -0.8), (-9.73, 1.0),
    (-8.93, 0.15), (-8.36, -0.45), (-8.71, 0.45), (-8.17, -0.7), (-8.52, 0.85), (-8.84, -1.1), (-8.05, 1.25), (-8.64, -1.45), (-8.26, 1.6), (-8.98, -1.9), (-8.42, 2.05), (-8.78, -2.5), (-8.12, 0.05), (-8.59, -0.35), (-8.32, 1.4), (-8.89, -0.9),
    (-7.55, 0.05), (-7.9, -0.35), (-7.22, 0.55), (-7.68, -0.75), (-7.4, 0.95), (-7.08, -1.15), (-7.8, 1.35), (-7.45, -1.55), (-7.96, 1.75), (-7.3, -1.95), (-7.62, 2.2), (-7.14, -2.4), (-7.86, 0.25), (-7.5, -0.6), (-7.03, 0.8), (-7.73, -1.0),
    (-6.93, -0.15), (-6.36, 0.45), (-6.71, -0.45), (-6.17, 0.7), (-6.52, -0.85), (-6.84, 1.1), (-6.05, -1.25), (-6.64, 1.45), (-6.26, -1.6), (-6.98, 1.9), (-6.42, -2.05), (-6.78, 2.5), (-6.12, -0.05), (-6.59, 0.35), (-6.32, -1.4), (-6.89, 0.9),
    (-5.55, -0.05), (-5.9, 0.35), (-5.22, -0.55), (-5.68, 0.75), (-5.4, -0.95), (-5.08, 1.15), (-5.8, -1.35), (-5.45, 1.55), (-5.96, -1.75), (-5.3, 1.95), (-5.62, -2.2), (-5.14, 2.4), (-5.86, -0.25), (-5.5, 0.6), (-5.03, -0.8), (-5.73, 1.0),
    (-4.93, 0.15), (-4.36, -0.45), (-4.71, 0.45), (-4.17, -0.7), (-4.52, 0.85), (-4.84, -1.1), (-4.05, 1.25), (-4.64, -1.45), (-4.26, 1.6), (-4.98, -1.9), (-4.42, 2.05), (-4.78, -2.5), (-4.12, 0.05), (-4.59, -0.35), (-4.32, 1.4), (-4.89, -0.9),
    (-3.55, 0.05), (-3.9, -0.35), (-3.22, 0.55), (-3.68, -0.75), (-3.4, 0.95), (-3.08, -1.15), (-3.8, 1.35), (-3.45, -1.55), (-3.96, 1.75), (-3.3, -1.95), (-3.62, 2.2), (-3.14, -2.4), (-3.86, 0.25), (-3.5, -0.6), (-3.03, 0.8), (-3.73, -1.0),
    (-2.93, -0.15), (-2.36, 0.45), (-2.71, -0.45), (-2.17, 0.7), (-2.52, -0.85), (-2.84, 1.1), (-2.05, -1.25), (-2.64, 1.45), (-2.26, -1.6), (-2.98, 1.9), (-2.42, -2.05), (-2.78, 2.5), (-2.12, -0.05), (-2.59, 0.35), (-2.32, -1.4), (-2.89, 0.9),
    (-1.55, -0.05), (-1.9, 0.35), (-1.22, -0.55), (-1.68, 0.75), (-1.4, -0.95), (-1.08, 1.15), (-1.8, -1.35), (-1.45, 1.55), (-1.96, -1.75), (-1.3, 1.95), (-1.62, -2.2), (-1.14, 2.4), (-1.86, -0.25), (-1.5, 0.6), (-1.03, -0.8), (-1.73, 1.0),
    (-0.93, 0.15), (-0.36, -0.45), (-0.71, 0.45), (-0.17, -0.7), (-0.52, 0.85), (-0.84, -1.1), (-0.05, 1.25), (-0.64, -1.45), (-0.26, 1.6), (-0.98, -1.9), (-0.42, 2.05), (-0.78, -2.5), (-0.12, 0.05), (-0.59, -0.35), (-0.32, 1.4), (-0.89, -0.9),
    (0.45, 0.05), (0.1, -0.35), (0.78, 0.55), (0.32, -0.75), (0.6, 0.95), (0.92, -1.15), (0.2, 1.35), (0.55, -1.55), (0.04, 1.75), (0.7, -1.95), (0.38, 2.2), (0.86, -2.4), (0.14, 0.25), (0.5, -0.6), (0.97, 0.8), (0.27, -1.0),
    (1.07, -0.15), (1.64, 0.45), (1.29, -0.45), (1.83, 0.7), (1.48, -0.85), (1.16, 1.1), (1.95, -1.25), (1.36, 1.45), (1.74, -1.6), (1.02, 1.9), (1.58, -2.05), (1.22, 2.5), (1.88, -0.05), (1.41, 0.35), (1.68, -1.4), (1.11, 0.9),
    (2.45, -0.05), (2.1, 0.35), (2.78, -0.55), (2.32, 0.75), (2.6, -0.95), (2.92, 1.15), (2.2, -1.35), (2.55, 1.55), (2.04, -1.75), (2.7, 1.95), (2.38, -2.2), (2.86, 2.4), (2.14, -0.25), (2.5, 0.6), (2.97, -0.8), (2.27, 1.0),
    (3.07, 0.15), (3.64, -0.45), (3.29, 0.45), (3.83, -0.7), (3.48, 0.85), (3.16, -1.1), (3.95, 1.25), (3.36, -1.45), (3.74, 1.6), (3.02, -1.9), (3.58, 2.05), (3.22, -2.5), (3.88, 0.05), (3.41, -0.35), (3.68, 1.4), (3.11, -0.9),
    (4.45, 0.05), (4.1, -0.35), (4.78, 0.55), (4.32, -0.75), (4.6, 0.95), (4.92, -1.15), (4.2, 1.35), (4.55, -1.55), (4.04, 1.75), (4.7, -1.95), (4.38, 2.2), (4.86, -2.4), (4.14, 0.25), (4.5, -0.6), (4.97, 0.8), (4.27, -1.0),
    (5.07, -0.15), (5.64, 0.45), (5.29, -0.45), (5.83, 0.7), (5.48, -0.85), (5.16, 1.1), (5.95, -1.25), (5.36, 1.45), (5.74, -1.6), (5.02, 1.9), (5.58, -2.05), (5.22, 2.5), (5.88, -0.05), (5.41, 0.35), (5.68, -1.4), (5.11, 0.9),
    (6.45, -0.05), (6.1, 0.35), (6.78, -0.55), (6.32, 0.75), (6.6, -0.95), (6.92, 1.15), (6.2, -1.35), (6.55, 1.55), (6.04, -1.75), (6.7, 1.95), (6.38, -2.2), (6.86, 2.4), (6.14, -0.25), (6.5, 0.6), (6.97, -0.8), (6.27, 1.0),
    (7.07, 0.15), (7.64, -0.45), (7.29, 0.45), (7.83, -0.7), (7.48, 0.85), (7.16, -1.1), (7.95, 1.25), (7.36, -1.45), (7.74, 1.6), (7.02, -1.9), (7.58, 2.05), (7.22, -2.5), (7.88, 0.05), (7.41, -0.35), (7.68, 1.4), (7.11, -0.9),
    (8.45, 0.05), (8.1, -0.35), (8.78, 0.55), (8.32, -0.75), (8.6, 0.95), (8.92, -1.15), (8.2, 1.35), (8.55, -1.55), (8.04, 1.75), (8.7, -1.95), (8.38, 2.2), (8.86, -2.4), (8.14, 0.25), (8.5, -0.6), (8.97, 0.8), (8.27, -1.0),
    (9.07, -0.15), (9.64, 0.45), (9.29, -0.45), (9.83, 0.7), (9.48, -0.85), (9.16, 1.1), (9.95, -1.25), (9.36, 1.45), (9.74, -1.6), (9.02, 1.9), (9.58, -2.05), (9.22, 2.5), (9.88, -0.05), (9.41, 0.35), (9.68, -1.4), (9.11, 0.9),
    (10.45, -0.05), (10.1, 0.35), (10.78, -0.55), (10.32, 0.75), (10.6, -0.95), (10.92, 1.15), (10.2, -1.35), (10.55, 1.55), (10.04, -1.75), (10.7, 1.95), (10.38, -2.2), (10.86, 2.4), (10.14, -0.25), (10.5, 0.6), (10.97, -0.8), (10.27, 1.0),
    (11.07, 0.15), (11.64, -0.45), (11.29, 0.45), (11.83, -0.7), (11.48, 0.85), (11.16, -1.1), (11.95, 1.25), (11.36, -1.45), (11.74, 1.6), (11.02, -1.9), (11.58, 2.05), (11.22, -2.5), (11.88, 0.05), (11.41, -0.35), (11.68, 1.4), (11.11, -0.9),
    (12.45, 0.05), (12.1, -0.35), (12.78, 0.55), (12.32, -0.75), (12.6, 0.95), (12.92, -1.15), (12.2, 1.35), (12.55, -1.55), (12.04, 1.75), (12.7, -1.95), (12.38, 2.2), (12.86, -2.4), (12.14, 0.25), (12.5, -0.6), (12.97, 0.8), (12.27, -1.0),
    (13.07, -0.15), (13.64, 0.45), (13.29, -0.45), (13.83, 0.7), (13.48, -0.85), (13.16, 1.1), (13.95, -1.25), (13.36, 1.45), (13.74, -1.6), (13.02, 1.9), (13.58, -2.05), (13.22, 2.5), (13.88, -0.05), (13.41, 0.35), (13.68, -1.4), (13.11, 0.9),
    (14.45, -0.05), (14.1, 0.35), (14.78, -0.55), (14.32, 0.75), (14.6, -0.95), (14.92, 1.15), (14.2, -1.35), (14.55, 1.55), (14.04, -1.75), (14.7, 1.95), (14.38, -2.2), (14.86, 2.4), (14.14, -0.25), (14.5, 0.6), (14.97, -0.8), (14.27, 1.0),
    (15.07, 0.15), (15.64, -0.45), (15.29, 0.45), (15.83, -0.7), (15.48, 0.85), (15.16, -1.1), (15.95, 1.25), (15.36, -1.45), (15.74, 1.6), (15.02, -1.9), (15.58, 2.05), (15.22, -2.5), (15.88, 0.05), (15.41, -0.35), (15.68, 1.4), (15.11, -0.9),
    (16.45, 0.05), (16.1, -0.35), (16.78, 0.55), (16.32, -0.75), (16.6, 0.95), (16.92, -1.15), (16.2, 1.35), (16.55, -1.55), (16.04, 1.75), (16.7, -1.95), (16.38, 2.2), (16.86, -2.4), (16.14, 0.25), (16.5, -0.6), (16.97, 0.8), (16.27, -1.0),
    (17.3, 0.3), (17.65, -0.9), (17.1, -0.3), (17.9, 1.0), (17.5, 0.6), (17.2, -1.4), (17.8, 0.1), (17.4, 1.6),
]

# Histogram of residuals (0.5 s bins)
hist_bin_centers = [4.75, 4.25, 3.75, 3.25, 2.75, 2.25, 1.75, 1.25, 0.75, 0.25,
                    -0.25, -0.75, -1.25, -1.75, -2.25, -2.75, -3.25, -3.75, -4.25, -4.75]
hist_counts = [9, 20, 27, 82, 125, 240, 358, 497, 840, 1480,
               1460, 787, 522, 337, 170, 113, 71, 36, 12, 6]

# visible part of the page column to the right of the figure
page_lines = [
    "and 2-S travel",
    "able for the s",
    "INGV and 80",
    "moval of outl",
    "times and 180",
    "Before of",
    "overall datase",
    "recorded by b",
    "works was us",
    "aim, we used t",
    "that consists o",
    "line that best",
    "wave travel ti",
    "couples of P v",
    "(<i>i</i>,<i>j</i>) of station",
]
wide_lines = {0, 1, 2, 7, 8, 11, 12, 14}
indent_lines = {5}

# ---------------- figure ----------------
def fx(p):
    return p / FIG_W


def fy(p):
    return 1 - p / FIG_H


tp_w = [p[0] for p in wadati_points]
ts_w = [p[1] for p in wadati_points]
tp_r = [p[0] for p in residual_points]
res_r = [p[1] for p in residual_points]

marker_style = dict(size=6, color="#ffff00", line=dict(color="#7d7daa", width=0.8))

fig = go.Figure()
fig.add_trace(go.Scatter(x=tp_w, y=ts_w, mode="markers", marker=marker_style,
                         xaxis="x", yaxis="y", hoverinfo="skip", showlegend=False))
fig.add_trace(go.Scatter(x=fit_tp, y=fit_ts, mode="lines", line=dict(color="#c63cf2", width=4.5),
                         xaxis="x", yaxis="y", hoverinfo="skip", showlegend=False))
# helper trace so the overlay grid axis exists
fig.add_trace(go.Scatter(x=[0], y=[0], mode="markers", marker=dict(opacity=0),
                         xaxis="x", yaxis="y4", hoverinfo="skip", showlegend=False))
fig.add_trace(go.Scatter(x=tp_r, y=res_r, mode="markers", marker=marker_style,
                         xaxis="x2", yaxis="y2", hoverinfo="skip", showlegend=False))
fig.add_trace(go.Bar(x=hist_counts, y=hist_bin_centers, orientation="h", width=0.5,
                     marker=dict(color="#0000ff", line=dict(color="#a0a0a0", width=1),
                                 pattern=dict(shape=".", fillmode="replace", bgcolor="#0000ff",
                                              fgcolor="#8c8cff", size=3, solidity=0.35)),
                     xaxis="x3", yaxis="y3", hoverinfo="skip", showlegend=False))

bold_tick = dict(family="DejaVu Sans", size=13.5, color="black", weight="bold")
reg_tick = dict(family="Liberation Sans, Arial", size=12, color="#222")

fig.update_layout(
    width=FIG_W, height=FIG_H,
    margin=dict(l=0, r=0, t=0, b=0, autoexpand=False),
    paper_bgcolor="white", plot_bgcolor="white",
    showlegend=False,
    bargap=0,
    xaxis=dict(
        domain=[fx(97), fx(577)], anchor="y", range=[-30, 30],
        tickmode="array", tickvals=top_xticks, ticktext=[str(v) for v in top_xticks],
        ticks="outside", ticklen=15, tickwidth=2.5, tickcolor="black",
        tickfont=bold_tick, ticklabelstandoff=10,
        showline=True, linecolor="black", linewidth=2.5, mirror=True,
        showgrid=True, gridcolor="#dcdcdc", gridwidth=1,
        zeroline=False,
        minor=dict(dtick=10 / 9, tick0=-30, ticks="outside", ticklen=8, tickwidth=2,
                   tickcolor="black", showgrid=True, gridcolor="#dcdcdc", gridwidth=1),
    ),
    yaxis=dict(
        domain=[fy(495), fy(16)], anchor="x", range=[-50, 50],
        tickmode="array", tickvals=top_yticks, ticktext=[str(v) for v in top_yticks],
        ticks="outside", ticklen=16, tickwidth=2.5, tickcolor="black",
        tickfont=bold_tick, ticklabelstandoff=5,
        showline=True, linecolor="black", linewidth=2.5, mirror=True,
        showgrid=False, zeroline=False,
        minor=dict(dtick=10 / 18, tick0=-50, ticks="outside", ticklen=8, tickwidth=1.5,
                   tickcolor="black", showgrid=False),
    ),
    yaxis4=dict(
        overlaying="y", anchor="x", range=[-50, 50], tick0=-50, dtick=10 / 9,
        showgrid=True, gridcolor="#dcdcdc", gridwidth=1,
        showticklabels=False, ticks="", showline=False, zeroline=False,
    ),
    xaxis2=dict(
        domain=[fx(96), fx(577)], anchor="y2", range=[-29.5, 30],
        tickmode="array", tickvals=res_xticks, ticktext=[str(v) for v in res_xticks],
        ticks="outside", ticklen=15, tickwidth=3, tickcolor="black",
        tickfont=reg_tick, ticklabelstandoff=5,
        showline=True, linecolor="black", linewidth=3, mirror=True,
        showgrid=True, gridcolor="#e4e4e4", gridwidth=1, zeroline=False,
        minor=dict(dtick=20 / 9, tick0=0, ticks="outside", ticklen=7, tickwidth=2.5,
                   tickcolor="black", showgrid=True, gridcolor="#e4e4e4", gridwidth=1),
    ),
    yaxis2=dict(
        domain=[fy(823), fy(586)], anchor="x2", range=[-10, 10],
        tickmode="array", tickvals=res_yticks, ticktext=[str(v) for v in res_yticks],
        ticks="outside", ticklen=16, tickwidth=2.5, tickcolor="black",
        tickfont=dict(family="Liberation Sans, Arial", size=13, color="#222"), ticklabelstandoff=5,
        showline=True, linecolor="black", linewidth=3, mirror=True,
        showgrid=True, gridcolor="#b4b4b4", gridwidth=1, zeroline=False,
        minor=dict(dtick=1, tick0=0, ticks="outside", ticklen=8, tickwidth=2.5,
                   tickcolor="black", showgrid=True, gridcolor="#b4b4b4", gridwidth=1),
    ),
    xaxis3=dict(
        domain=[fx(578), 1.0], anchor="y3", side="top", range=[0, 1358],
        tickmode="array", tickvals=hist_ticks, ticktext=[str(v) for v in hist_ticks],
        tickangle=90, ticks="outside", ticklen=8, tickwidth=3, tickcolor="black",
        tickfont=dict(family="Liberation Sans, Arial", size=11, color="#222"), ticklabelstandoff=-2,
        showline=True, linecolor="black", linewidth=3, mirror=True,
        showgrid=False, zeroline=False,
        minor=dict(dtick=200, tick0=0, ticks="outside", ticklen=3, tickwidth=3, tickcolor="black"),
    ),
    yaxis3=dict(
        domain=[fy(824), fy(584)], anchor="x3", range=[-10, 10],
        showticklabels=False, ticks="", showline=True, linecolor="black", linewidth=3,
        mirror=False, showgrid=False, zeroline=False,
    ),
)

# crosshair lines through the origin of the Wadati diagram (drawn above the points)
fig.add_shape(type="line", xref="x", yref="y domain", x0=0, x1=0, y0=0, y1=1,
              line=dict(color="black", width=2.5), layer="above")
fig.add_shape(type="line", xref="x domain", yref="y", x0=0, x1=1, y0=0, y1=0,
              line=dict(color="black", width=2.5), layer="above")

ann = []
title_font = dict(family="Liberation Sans, Arial", size=21, color="#111")
ann.append(dict(text="T<sub>si</sub>-T<sub>sj</sub>(s)", x=fx(19), y=fy(255), xref="paper", yref="paper",
                textangle=-90, showarrow=False, font=title_font, xanchor="center", yanchor="middle"))
ann.append(dict(text="T<sub>pi</sub>-T<sub>pj</sub> (s)", x=fx(331), y=fy(553), xref="paper", yref="paper",
                showarrow=False, font=title_font, xanchor="center", yanchor="middle"))
ann.append(dict(text="residual (s)", x=fx(47), y=fy(702), xref="paper", yref="paper", textangle=-90,
                showarrow=False, font=dict(family="Liberation Sans, Arial", size=13, color="#222"),
                xanchor="center", yanchor="middle"))
ann.append(dict(text="T<sub>pi</sub>-T<sub>pj</sub> (s)", x=fx(331), y=fy(875), xref="paper", yref="paper",
                showarrow=False, font=dict(family="Liberation Sans, Arial", size=23, color="#111"),
                xanchor="center", yanchor="middle"))
ann.append(dict(text=VPVS_LABEL, x=fx(128), y=fy(86), xref="paper", yref="paper", showarrow=False,
                font=dict(family="Lato", size=35, color="#111"), xanchor="left", yanchor="middle"))

first_baseline = 4.7
line_step = 33.35
for i, line in enumerate(page_lines):
    txt = line.replace(" ", "\u00a0\u00a0") if i in wide_lines else line.replace(" ", "\u00a0\u2009")
    x0 = 673 + (54 if i in indent_lines else 0)
    base = first_baseline + i * line_step
    ann.append(dict(text=txt, x=fx(x0), y=fy(base - 7.8), xref="paper", yref="paper", showarrow=False,
                    font=dict(family="Liberation Serif", size=24, color="#1a1a1a"),
                    xanchor="left", yanchor="middle", align="left"))

fig.update_layout(annotations=ann)

# the page body has a default 8px margin; remove it so the 828x890 figure fills the window
fig.write_html("out.html", config={"displayModeBar": False},
               post_script="document.body.style.margin='0px';")
